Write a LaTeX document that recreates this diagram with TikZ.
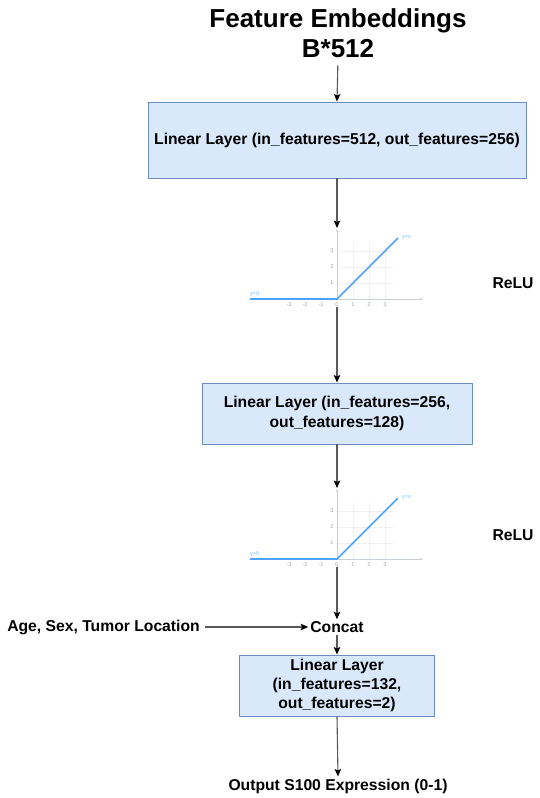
\documentclass[tikz,border=0pt]{standalone}
\usepackage{fontspec}
\setmainfont{Liberation Sans}
\usetikzlibrary{arrows.meta}
\definecolor{boxfill}{HTML}{DAE8FC}
\definecolor{boxline}{HTML}{6C8EBF}
\definecolor{relublue}{HTML}{4DA3FF}
\definecolor{axisgray}{HTML}{C8CED6}
\definecolor{gridgray}{HTML}{EEF0F3}
\definecolor{ticktext}{HTML}{95A2B0}
\begin{document}
\begin{tikzpicture}[x=1pt,y=-1pt,
  txt/.style={font=\fontsize{15.7}{19.5}\selectfont\bfseries, inner sep=2pt, align=center},
  layerbox/.style={txt, draw=boxline, fill=boxfill, line width=0.9pt, minimum height=61pt},
  conn/.style={draw=black!65, line width=1.1pt, -{Stealth[length=7.5pt,width=6.5pt,inset=1.5pt,fill=black,color=black]}},
  tick/.style={font=\fontsize{5.5}{6}\selectfont, text=ticktext, inner sep=0pt}]
\useasboundingbox (0,0) rectangle (540,798);
\fill[white] (0,0) rectangle (540,798);

\newcommand{\reluplot}[3]{%
  \begin{scope}[shift={(#1,#2)}]
    \foreach \g in {16,32,48} {
      \draw[gridgray, line width=0.6pt] (\g,0) -- (\g,-56);
      \draw[gridgray, line width=0.6pt] (0,-\g) -- (56,-\g);
    }
    \draw[axisgray, line width=0.8pt, -{Stealth[length=3pt,width=2.5pt]}] (-87,0) -- (86,0);
    \draw[axisgray, line width=0.8pt, -{Stealth[length=3pt,width=2.5pt]}] (0,0) -- (0,-70);
    \foreach \t in {-3,-2,-1,0,1,2,3} { \node[tick] at (16*\t,6) {\t}; }
    \foreach \t in {1,2,3} { \node[tick] at (-5,-16*\t) {\t}; }
    \draw[relublue, line width=1.6pt, line join=round] (-87,0) -- (0,0) -- (61,-61);
    \node[tick, text=relublue!75, anchor=west] at (65,-61) {y=x};
    \node[tick, text=relublue!75, anchor=west] at (-87,-5) {y=0};
    \coordinate (#3top) at (0,-71);
    \coordinate (#3bot) at (0,8);
  \end{scope}}

% title
\node[font=\fontsize{26}{30}\selectfont\bfseries, anchor=base, inner sep=0pt] (title1) at (338,27) {Feature Embeddings};
\node[font=\fontsize{26}{30}\selectfont\bfseries, anchor=base, inner sep=0pt] (title2) at (338,57) {B*512};

% layers
\node[layerbox, minimum width=378pt, minimum height=76pt] (box1) at (337,140) {Linear Layer (in\_features=512, out\_features=256)};
\reluplot{337}{299}{pa}
\node[txt] (relu1) at (513,283) {ReLU};
\node[layerbox, minimum width=270pt] (box2) at (337,413.5) {Linear Layer (in\_features=256,\\out\_features=128)};
\reluplot{337}{559}{pb}
\node[txt] (relu2) at (513,535) {ReLU};
\node[txt] (concat) at (337,627) {Concat};
\node[txt] (age) at (103.5,627) {Age, Sex, Tumor Location};
\node[layerbox, minimum width=195pt, font=\fontsize{15.7}{19}\selectfont\bfseries] (box3) at (337,685.5) {Linear Layer\\(in\_features=132,\\out\_features=2)};
\node[txt] (out) at (338,786) {Output S100 Expression (0-1)};

% connectors
\draw[conn, shorten <=8pt] (title2.south) -- (box1.north);
\draw[conn] (box1.south) -- (patop);
\draw[conn] (pabot) -- (box2.north);
\draw[conn] (box2.south) -- (pbtop);
\draw[conn] (pbbot) -- (concat.north);
\draw[conn, shorten <=3pt] (age.east) -- (concat.west);
\draw[conn] (concat.south) -- (box3.north);
\draw[conn] (box3.south) -- (out.north);
\end{tikzpicture}
\end{document}
